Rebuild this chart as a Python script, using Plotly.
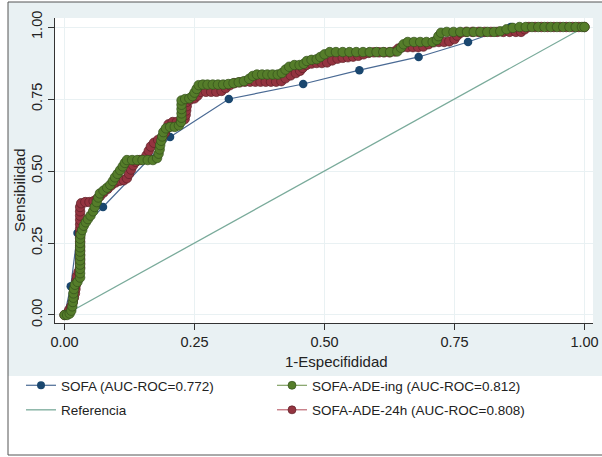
import plotly.graph_objects as go

# ---- ROC coordinates: 1-specificity (fpr) and sensitivity (tpr) ----
sofa_fpr = [0.000, 0.012, 0.025, 0.074, 0.203, 0.316, 0.459, 0.567, 0.681, 0.776, 0.858, 1.000]
sofa_tpr = [0.000, 0.100, 0.285, 0.375, 0.618, 0.750, 0.802, 0.850, 0.896, 0.948, 1.000, 1.000]

ing_fpr = [0.000, 0.005, 0.010, 0.013, 0.015, 0.016, 0.017, 0.017, 0.018, 0.020, 0.025,
           0.030, 0.030, 0.030, 0.030, 0.030, 0.030, 0.030, 0.030, 0.030, 0.030, 0.031,
           0.034, 0.037, 0.041, 0.045, 0.050, 0.055, 0.058, 0.062, 0.065, 0.068, 0.075,
           0.082, 0.088, 0.093, 0.097, 0.102, 0.107, 0.112, 0.116, 0.120, 0.130, 0.140,
           0.150, 0.160, 0.170, 0.178, 0.181, 0.183, 0.184, 0.186, 0.188, 0.190, 0.195,
           0.203, 0.212, 0.220, 0.224, 0.225, 0.225, 0.225, 0.225, 0.225, 0.232, 0.240,
           0.246, 0.250, 0.254, 0.258, 0.266, 0.275, 0.285, 0.295, 0.305, 0.315, 0.325,
           0.335, 0.345, 0.355, 0.362, 0.370, 0.380, 0.390, 0.400, 0.410, 0.418, 0.425,
           0.432, 0.442, 0.452, 0.460, 0.466, 0.475, 0.485, 0.492, 0.500, 0.510, 0.522,
           0.535, 0.548, 0.561, 0.574, 0.587, 0.600, 0.613, 0.626, 0.640, 0.647, 0.652,
           0.660, 0.672, 0.684, 0.696, 0.708, 0.716, 0.719, 0.724, 0.735, 0.748, 0.761,
           0.774, 0.787, 0.800, 0.813, 0.826, 0.838, 0.850, 0.862, 0.875, 0.887, 0.899,
           0.911, 0.923, 0.935, 0.947, 0.959, 0.971, 0.983, 0.995, 1.000]
ing_tpr = [0.000, 0.000, 0.005, 0.015, 0.030, 0.045, 0.060, 0.075, 0.090, 0.105, 0.115,
           0.130, 0.145, 0.160, 0.175, 0.190, 0.205, 0.220, 0.235, 0.250, 0.265, 0.280,
           0.295, 0.310, 0.322, 0.333, 0.345, 0.360, 0.375, 0.392, 0.408, 0.422, 0.432,
           0.442, 0.452, 0.465, 0.478, 0.490, 0.503, 0.516, 0.528, 0.538, 0.538, 0.538,
           0.538, 0.538, 0.538, 0.545, 0.560, 0.575, 0.590, 0.605, 0.620, 0.635, 0.648,
           0.653, 0.653, 0.658, 0.670, 0.685, 0.700, 0.715, 0.730, 0.745, 0.750, 0.752,
           0.760, 0.772, 0.785, 0.798, 0.800, 0.800, 0.800, 0.800, 0.800, 0.802, 0.805,
           0.808, 0.812, 0.820, 0.830, 0.835, 0.835, 0.835, 0.835, 0.835, 0.840, 0.852,
           0.862, 0.868, 0.868, 0.872, 0.882, 0.886, 0.888, 0.896, 0.905, 0.913, 0.913,
           0.913, 0.913, 0.913, 0.913, 0.913, 0.913, 0.913, 0.913, 0.915, 0.928, 0.940,
           0.948, 0.948, 0.948, 0.948, 0.948, 0.955, 0.968, 0.980, 0.983, 0.983, 0.983,
           0.983, 0.983, 0.983, 0.983, 0.983, 0.985, 0.992, 0.997, 1.000, 1.000, 1.000,
           1.000, 1.000, 1.000, 1.000, 1.000, 1.000, 1.000, 1.000, 1.000]

h24_fpr = [0.000, 0.005, 0.009, 0.013, 0.016, 0.018, 0.020, 0.021, 0.022, 0.023, 0.024,
           0.027, 0.030, 0.030, 0.030, 0.030, 0.030, 0.030, 0.030, 0.030, 0.030, 0.030,
           0.030, 0.030, 0.030, 0.030, 0.030, 0.032, 0.040, 0.048, 0.056, 0.062, 0.068,
           0.075, 0.083, 0.090, 0.098, 0.106, 0.114, 0.120, 0.124, 0.128, 0.132, 0.137,
           0.145, 0.153, 0.158, 0.162, 0.166, 0.172, 0.180, 0.188, 0.193, 0.197, 0.200,
           0.208, 0.216, 0.224, 0.231, 0.233, 0.234, 0.235, 0.235, 0.242, 0.250, 0.256,
           0.262, 0.272, 0.282, 0.292, 0.302, 0.310, 0.318, 0.327, 0.337, 0.347, 0.357,
           0.367, 0.377, 0.387, 0.397, 0.407, 0.417, 0.425, 0.435, 0.445, 0.453, 0.458,
           0.465, 0.475, 0.485, 0.495, 0.505, 0.515, 0.525, 0.535, 0.545, 0.555, 0.565,
           0.575, 0.585, 0.595, 0.605, 0.615, 0.625, 0.635, 0.642, 0.650, 0.660, 0.670,
           0.680, 0.690, 0.700, 0.710, 0.720, 0.730, 0.740, 0.750, 0.755, 0.762, 0.772,
           0.784, 0.796, 0.808, 0.820, 0.832, 0.844, 0.856, 0.868, 0.878, 0.885, 0.893,
           0.905, 0.917, 0.929, 0.941, 0.953, 0.965, 0.977, 0.989, 1.000]
h24_tpr = [0.000, 0.005, 0.018, 0.030, 0.045, 0.060, 0.075, 0.090, 0.105, 0.120, 0.135,
           0.150, 0.165, 0.180, 0.195, 0.210, 0.225, 0.240, 0.255, 0.270, 0.285, 0.300,
           0.315, 0.330, 0.345, 0.360, 0.375, 0.388, 0.392, 0.392, 0.395, 0.402, 0.412,
           0.425, 0.438, 0.450, 0.460, 0.466, 0.468, 0.475, 0.490, 0.505, 0.520, 0.532,
           0.538, 0.542, 0.555, 0.570, 0.585, 0.598, 0.608, 0.618, 0.632, 0.648, 0.662,
           0.670, 0.670, 0.672, 0.680, 0.695, 0.710, 0.725, 0.740, 0.748, 0.752, 0.762,
           0.775, 0.775, 0.775, 0.775, 0.778, 0.788, 0.798, 0.805, 0.808, 0.810, 0.810,
           0.810, 0.810, 0.810, 0.810, 0.810, 0.812, 0.822, 0.832, 0.840, 0.848, 0.858,
           0.868, 0.873, 0.875, 0.875, 0.877, 0.884, 0.890, 0.893, 0.895, 0.897, 0.900,
           0.905, 0.910, 0.912, 0.912, 0.912, 0.912, 0.915, 0.925, 0.930, 0.930, 0.930,
           0.930, 0.932, 0.940, 0.947, 0.948, 0.948, 0.950, 0.958, 0.970, 0.980, 0.983,
           0.983, 0.983, 0.983, 0.983, 0.983, 0.983, 0.983, 0.983, 0.983, 0.992, 1.000,
           1.000, 1.000, 1.000, 1.000, 1.000, 1.000, 1.000, 1.000, 1.000]

ref_x = [0.0, 1.0]
ref_y = [0.0, 1.0]

tick_vals = [0.0, 0.25, 0.5, 0.75, 1.0]
tick_text = ["0.00", "0.25", "0.50", "0.75", "1.00"]

name_sofa = "SOFA (AUC-ROC=0.772)"
name_ing = "SOFA-ADE-ing (AUC-ROC=0.812)"
name_ref = "Referencia"
name_h24 = "SOFA-ADE-24h (AUC-ROC=0.808)"
x_title = "1-Especifididad"
y_title = "Sensibilidad"

# ---- style ----
FONT = "Liberation Sans, Arial, sans-serif"
BG = "#e9f1f3"
NAVY = "#1a476f"
MAROON = "#943440"
GREEN = "#557d2a"
TEAL = "#7aab9b"
TXT = "#222222"

SOFA_LINE = dict(color="#4a6a94", width=1.2)
REF_LINE = dict(color=TEAL, width=1.3)
H24_LINE = dict(color="#b04a56", width=1)
ING_LINE = dict(color="#6a9048", width=1)
H24_EDGE = dict(color="#5e1f27", width=0.7)
ING_EDGE = dict(color="#34501b", width=0.7)

W, H = 602, 457
ML, MR, MT, MB = 55, 9, 18, 134
PW, PH = W - ML - MR, H - MT - MB


def px_x(p):
    return (p - ML) / PW


def px_y(p):
    return (H - MB - p) / PH


fig = go.Figure()

# curves (drawn in stacking order, legend handled by the key entries below)
fig.add_trace(go.Scatter(
    x=sofa_fpr, y=sofa_tpr, name=name_sofa, mode="lines+markers",
    line=SOFA_LINE, marker=dict(color=NAVY, size=8.5, line=dict(width=0)),
    showlegend=False))
fig.add_trace(go.Scatter(
    x=ref_x, y=ref_y, name=name_ref, mode="lines", line=REF_LINE,
    showlegend=False))
fig.add_trace(go.Scatter(
    x=h24_fpr, y=h24_tpr, name=name_h24, mode="lines+markers",
    line=H24_LINE, marker=dict(color=MAROON, size=9.5, line=H24_EDGE),
    showlegend=False))
fig.add_trace(go.Scatter(
    x=ing_fpr, y=ing_tpr, name=name_ing, mode="lines+markers",
    line=ING_LINE, marker=dict(color=GREEN, size=9.5, line=ING_EDGE),
    showlegend=False))

# legend keys with smaller symbols, two columns
key_specs = [
    (name_sofa, "lines+markers", SOFA_LINE, dict(color=NAVY, size=8, line=dict(width=0)), "legend", "a"),
    (name_ref, "lines", REF_LINE, None, "legend", "b"),
    (name_ing, "lines+markers", ING_LINE, dict(color=GREEN, size=8, line=ING_EDGE), "legend2", "c"),
    (name_h24, "lines+markers", H24_LINE, dict(color=MAROON, size=8, line=H24_EDGE), "legend2", "d"),
]
for name, mode, line, marker, leg, grp in key_specs:
    kw = dict(marker=marker) if marker else {}
    fig.add_trace(go.Scatter(
        x=[None], y=[None], name=name, mode=mode, line=line,
        legend=leg, legendgroup=grp, showlegend=True, hoverinfo="skip", **kw))

axis_common = dict(
    tickvals=tick_vals, ticktext=tick_text,
    showgrid=True, gridcolor=BG, gridwidth=1, zeroline=False,
    showline=True, linecolor="#333333", linewidth=1,
    ticks="outside", ticklen=6, tickcolor="#333333", tickwidth=1,
    tickfont=dict(family=FONT, size=14.5, color=TXT),
    fixedrange=True, automargin=False,
)

fig.update_xaxes(range=[-0.0183, 1.0163], **axis_common)
fig.update_yaxes(range=[-0.0278, 1.03125], tickangle=-90, **axis_common)

legend_common = dict(
    xanchor="left", yanchor="top", orientation="v",
    bgcolor="rgba(0,0,0,0)", borderwidth=0,
    font=dict(family=FONT, size=13.5, color=TXT),
    traceorder="grouped", tracegroupgap=4, itemclick=False,
)

shapes = [
    # graph region background
    dict(type="rect", xref="paper", yref="paper", layer="below",
         x0=px_x(8), x1=px_x(610), y0=px_y(376), y1=px_y(2),
         fillcolor=BG, line=dict(width=0)),
    # plot region
    dict(type="rect", xref="paper", yref="paper", layer="below",
         x0=0, x1=1, y0=0, y1=1, fillcolor="white", line=dict(width=0)),
    # outer frame
    dict(type="rect", xref="paper", yref="paper", layer="below",
         x0=px_x(8), x1=px_x(620), y0=px_y(455), y1=px_y(2),
         fillcolor="rgba(0,0,0,0)", line=dict(color="#555555", width=1)),
]

annotations = [
    dict(text=x_title, xref="paper", yref="paper", x=px_x(336), y=px_y(361),
         xanchor="center", yanchor="middle", showarrow=False,
         font=dict(family=FONT, size=15, color=TXT)),
    dict(text=y_title, xref="paper", yref="paper", x=px_x(19), y=px_y(190),
         xanchor="center", yanchor="middle", showarrow=False, textangle=-90,
         font=dict(family=FONT, size=15.5, color=TXT)),
]

fig.update_layout(
    width=W, height=H,
    margin=dict(l=ML, r=MR, t=MT, b=MB, pad=0, autoexpand=False),
    paper_bgcolor="white", plot_bgcolor="white",
    showlegend=True,
    legend=dict(x=px_x(21), y=px_y(370), **legend_common),
    legend2=dict(x=px_x(272), y=px_y(370), **legend_common),
    shapes=shapes, annotations=annotations,
    font=dict(family=FONT, color=TXT),
)

fig.write_html("out.html")
